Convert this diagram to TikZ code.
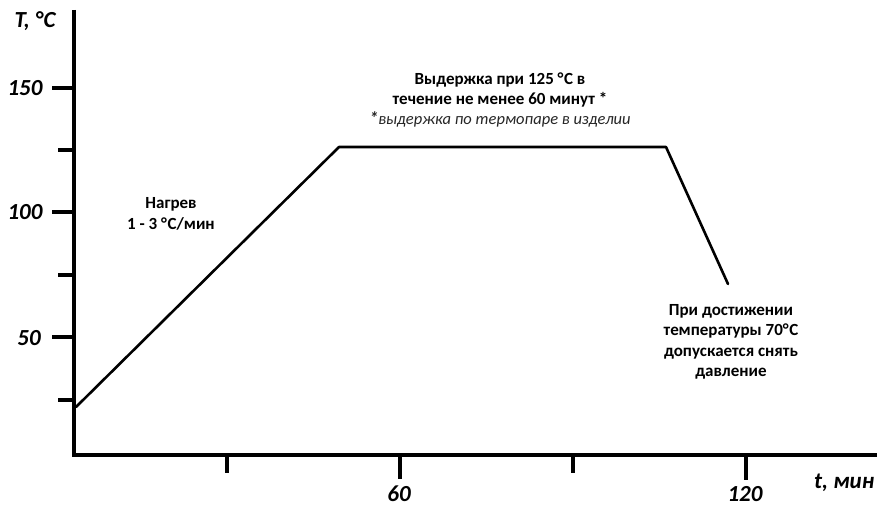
\documentclass[tikz,border=0pt]{standalone}
\usepackage{fontspec}
\setmainfont{Carlito}
\newcommand{\degC}{°\kern0.6pt C}
\begin{document}
\begin{tikzpicture}[x=1pt,y=-1pt,
  axis/.style={line width=4.5pt},
  tickmark/.style={line width=3.8pt},
  curve/.style={line width=2.6pt,line join=round,line cap=round},
  axlabel/.style={font=\fontsize{23}{26}\selectfont\bfseries\itshape,inner sep=0pt},
  note/.style={font=\fontsize{17}{20.5}\selectfont\bfseries,align=center,inner sep=0pt}]
\useasboundingbox[fill=white] (0,0) rectangle (877,508);
% axes
\coordinate (O) at (74,455);
\coordinate (Ytop) at (74,10);
\coordinate (Xend) at (877,455);
\draw[axis] (Ytop) -- (O) -- (Xend);
% y ticks
\foreach \y/\x in {88/52,150/58,212/52,275/58,337/52,400/58}
  \draw[tickmark] (\x,\y) -- (74,\y);
% x ticks
\foreach \x/\y in {227/473,400/479,573/473,746/480}
  \draw[tickmark] (\x,455) -- (\x,\y);
% tick labels
\node[axlabel] (l150) at (25,88) {150};
\node[axlabel] (l100) at (25,212) {100};
\node[axlabel] (l50) at (29,338) {50};
\node[axlabel] (lT) at (35,21) {T, \degC};
\node[axlabel] (l60) at (399,494) {60};
\node[axlabel] (l120) at (745,494) {120};
\node[axlabel,anchor=west] (lt) at (814,483) {t, мин};
% curve
\coordinate (c0) at (76,407);
\coordinate (c1) at (339,147);
\coordinate (c2) at (666,147);
\coordinate (c3) at (728,284);
\draw[curve] (c0) -- (c1) -- (c2) -- (c3);
% notes
\node[note] (heat) at (171,214) {Нагрев\\1 - 3 \degC/мин};
\node[note] (hold) at (500,90) {Выдержка при 125 \degC{} в\\течение не менее 60 минут *};
\node[font=\fontsize{16.5}{18}\selectfont\itshape,text=black!85,inner sep=0pt] (foot) at (500,119) {{\bfseries\fontsize{18}{18}\selectfont *}выдержка по термопаре в изделии};
\node[note] (rel) at (731,342) {При достижении\\температуры 70\degC\\допускается снять\\давление};
\end{tikzpicture}
\end{document}
